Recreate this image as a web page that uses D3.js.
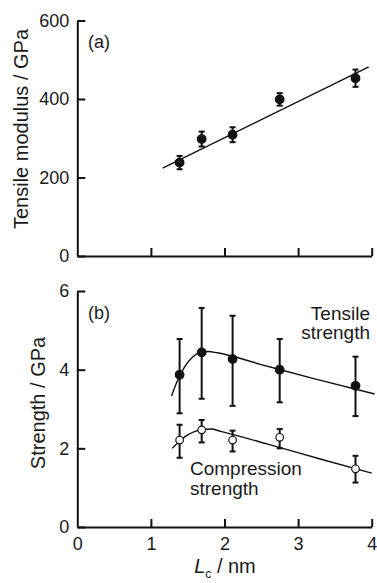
<!DOCTYPE html>
<html>
<head>
<meta charset="utf-8">
<script src="https://cdn.jsdelivr.net/npm/d3@7"></script>
<style>
  body { margin: 0; background: #fff; }
  text { font-family: "Liberation Sans", Arial, sans-serif; fill: #1a1a1a; }
</style>
</head>
<body>
<svg id="chart" width="377" height="583"></svg>
<script>
// crystallite size Lc (nm)
var lc = [1.39, 1.69, 2.11, 2.75, 3.78];

// (a) tensile modulus, GPa
var modulus = [238, 298, 309, 399, 453];
var modulusErr = [17, 19, 19, 16, 22];
var modulusFit = [[1.16, 224], [3.96, 482]];

// (b) strength, GPa
var tensile = [3.87, 4.44, 4.27, 4.0, 3.59];
var tensileLo = [2.89, 3.26, 3.08, 3.17, 2.82];
var tensileHi = [4.78, 5.57, 5.37, 4.78, 4.33];
var tensileFit = [[1.28, 3.33], [1.36, 3.72], [1.46, 4.08], [1.56, 4.31], [1.66, 4.43],
                  [1.78, 4.46], [1.9, 4.43], [2.5, 4.13], [3.2, 3.78], [4.04, 3.38]];

var compression = [2.21, 2.47, 2.21, 2.28, 1.48];
var compressionLo = [1.76, 2.15, 1.92, 2.0, 1.13];
var compressionHi = [2.6, 2.72, 2.45, 2.49, 1.81];
var compressionFit = [[1.29, 2.0], [1.4, 2.2], [1.5, 2.34], [1.6, 2.43], [1.7, 2.48],
                      [1.82, 2.49], [1.95, 2.43], [2.6, 2.1], [3.3, 1.73], [4.0, 1.37]];

var xTicks = [0, 1, 2, 3, 4];
var yTicksA = [0, 200, 400, 600];
var yTicksB = [0, 2, 4, 6];

var svg = d3.select("#chart");

var x = d3.scaleLinear().domain([0, 4]).range([77.3, 371.7]);
var yA = d3.scaleLinear().domain([0, 600]).range([256, 20.5]);
var yB = d3.scaleLinear().domain([0, 6]).range([527, 291]);

function drawAxes(y, ticks, showX, pad) {
  var gy = svg.append("g").attr("transform", "translate(" + x(0) + ",0)")
    .call(d3.axisLeft(y).tickValues(ticks).tickSize(-8).tickSizeOuter(0).tickPadding(pad)
      .tickFormat(d3.format("d")));
  var gx = svg.append("g").attr("transform", "translate(0," + y.range()[0] + ")")
    .call(d3.axisBottom(x).tickValues(xTicks).tickSize(-8).tickSizeOuter(0).tickPadding(10)
      .tickFormat(showX ? d3.format("d") : ""));
  [gy, gx].forEach(function(g) {
    g.selectAll("path, line").attr("stroke", "#111").attr("stroke-width", 2);
    g.selectAll("text").style("font-size", "18px").attr("fill", "#1a1a1a");
  });
  gx.select(".tick:first-of-type line").remove();
}

function errorBars(y, xs, lo, hi) {
  var g = svg.append("g").attr("stroke", "#111").attr("stroke-width", 2);
  xs.forEach(function(d, i) {
    g.append("line").attr("x1", x(d)).attr("x2", x(d)).attr("y1", y(lo[i])).attr("y2", y(hi[i]));
    g.append("line").attr("x1", x(d) - 3).attr("x2", x(d) + 3).attr("y1", y(lo[i])).attr("y2", y(lo[i]));
    g.append("line").attr("x1", x(d) - 3).attr("x2", x(d) + 3).attr("y1", y(hi[i])).attr("y2", y(hi[i]));
  });
}

function points(y, xs, ys, filled) {
  svg.append("g").selectAll("circle").data(xs).enter().append("circle")
    .attr("cx", function(d) { return x(d); })
    .attr("cy", function(d, i) { return y(ys[i]); })
    .attr("r", filled ? 4.3 : 3.8)
    .attr("fill", filled ? "#111" : "#fff")
    .attr("stroke", "#111").attr("stroke-width", 1.2);
}

function fitLine(y, pts, curve) {
  svg.append("path").datum(pts)
    .attr("fill", "none").attr("stroke", "#111").attr("stroke-width", 1.4)
    .attr("d", d3.line().x(function(d) { return x(d[0]); }).y(function(d) { return y(d[1]); }).curve(curve));
}

// panel (a)
drawAxes(yA, yTicksA, false, 8);
fitLine(yA, modulusFit, d3.curveLinear);
errorBars(yA, lc, modulus.map(function(v, i) { return v - modulusErr[i]; }),
  modulus.map(function(v, i) { return v + modulusErr[i]; }));
points(yA, lc, modulus, true);

svg.append("text").attr("x", 88).attr("y", 48).style("font-size", "18px").text("(a)");
svg.append("text").attr("transform", "translate(28,129) rotate(-90)")
  .attr("text-anchor", "middle").style("font-size", "20px").text("Tensile modulus / GPa");

// panel (b)
drawAxes(yB, yTicksB, true, 8);
fitLine(yB, tensileFit, d3.curveMonotoneX);
fitLine(yB, compressionFit, d3.curveMonotoneX);
errorBars(yB, lc, tensileLo, tensileHi);
errorBars(yB, lc, compressionLo, compressionHi);
points(yB, lc, tensile, true);
points(yB, lc, compression, false);

svg.append("text").attr("x", 88).attr("y", 319).style("font-size", "18px").text("(b)");
svg.append("text").attr("transform", "translate(45,403) rotate(-90)")
  .attr("text-anchor", "middle").style("font-size", "20px").text("Strength / GPa");

svg.append("text").attr("x", 370).attr("y", 320).attr("text-anchor", "end")
  .style("font-size", "19px").text("Tensile");
svg.append("text").attr("x", 370).attr("y", 339).attr("text-anchor", "end")
  .style("font-size", "19px").text("strength");
svg.append("text").attr("x", 190).attr("y", 475).style("font-size", "19px").text("Compression");
svg.append("text").attr("x", 190).attr("y", 495).style("font-size", "19px").text("strength");

// x axis title
var xt = svg.append("text").attr("x", 225).attr("y", 573).attr("text-anchor", "middle")
  .style("font-size", "20px");
xt.append("tspan").style("font-style", "italic").text("L");
xt.append("tspan").attr("dy", 5).style("font-size", "12px").text("c");
xt.append("tspan").attr("dy", -5).text(" / nm");
</script>
</body>
</html>
